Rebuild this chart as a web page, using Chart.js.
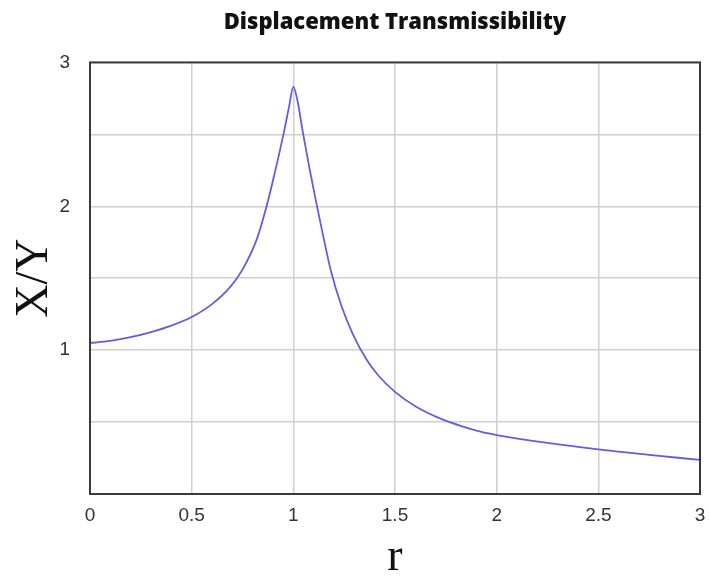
<!DOCTYPE html>
<html>
<head>
<meta charset="utf-8">
<script src="https://cdn.jsdelivr.net/npm/chart.js@4/dist/chart.umd.min.js"></script>
<style>
  html, body { margin: 0; padding: 0; background: #fff; }
</style>
</head>
<body>
<canvas id="myChart" width="709" height="581"></canvas>
<script>
// frequency ratio r and displacement transmissibility X/Y
const ratios = [0, 0.1, 0.2, 0.3, 0.4, 0.5, 0.6, 0.69, 0.75, 0.82, 0.874, 0.91, 0.953, 0.98, 1.0,
  1.021, 1.046, 1.08, 1.112, 1.137, 1.185, 1.236, 1.293, 1.36, 1.42, 1.5, 1.6, 1.73, 1.83, 1.93, 2.0,
  2.25, 2.5, 2.75, 3.0]
const transmissibility = [1.05, 1.065, 1.09, 1.125, 1.17, 1.23, 1.32, 1.44, 1.56, 1.77, 2.03, 2.24, 2.51, 2.7, 2.83,
  2.73, 2.52, 2.26, 2.03, 1.86, 1.55, 1.31, 1.11, 0.935, 0.82, 0.71, 0.61, 0.52, 0.47, 0.43, 0.41,
  0.355, 0.31, 0.272, 0.237]
const yLabelled = [1, 2, 3]

const chart = document.getElementById('myChart')

const points = ratios.map((r, i) => ({ x: r, y: transmissibility[i] }))

// dark box round the plot area
const frame = {
  id: 'frame',
  afterDatasetsDraw: (c) => {
    const { ctx, chartArea: a } = c
    ctx.save()
    ctx.strokeStyle = '#3a3a3a'
    ctx.lineWidth = 2
    ctx.strokeRect(a.left, a.top, a.right - a.left, a.bottom - a.top)
    ctx.restore()
  },
}

const config = {
  type: 'line',
  data: {
    datasets: [
      {
        data: points,
        borderColor: '#5f5fe0',
        borderWidth: 1.8,
        pointRadius: 0,
        cubicInterpolationMode: 'monotone',
      },
    ],
  },
  options: {
    responsive: false,
    animation: false,
    layout: { padding: { left: 0, right: 9, top: 0, bottom: 0 } },
    scales: {
      x: {
        type: 'linear',
        min: 0,
        max: 3,
        afterFit: (scale) => {
          scale.height = 87
          scale.paddingLeft = 0
          scale.paddingRight = 0
        },
        ticks: {
          stepSize: 0.5,
          padding: 10,
          color: '#333',
          font: { family: 'Liberation Sans', size: 19 },
          callback: (value) => String(Math.round(value * 10) / 10),
        },
        grid: { color: '#cfcfcf', lineWidth: 1.5, drawTicks: false },
        border: { display: false },
        title: {
          display: true,
          text: 'r',
          color: '#111',
          font: { family: 'Liberation Serif', size: 46, lineHeight: 1 },
          padding: { top: 0, bottom: 0 },
        },
      },
      y: {
        min: 0,
        max: 3,
        afterFit: (scale) => { scale.width = 90 },
        ticks: {
          stepSize: 0.5,
          padding: 20,
          color: '#333',
          font: { family: 'Liberation Sans', size: 19 },
          callback: (value) => (yLabelled.includes(value) ? value : ''),
        },
        grid: { color: '#cfcfcf', lineWidth: 1.5, drawTicks: false },
        border: { display: false },
        title: {
          display: true,
          text: 'X/Y',
          color: '#111',
          font: { family: 'Liberation Serif', size: 46, lineHeight: 1 },
          padding: { top: 12, bottom: 0 },
        },
      },
    },
    plugins: {
      legend: { display: false },
      tooltip: { enabled: false },
      title: {
        display: true,
        fullSize: false,
        text: 'Displacement Transmissibility',
        color: '#111',
        font: { family: 'Open Sans', size: 22, weight: 800 },
        padding: { top: 10, bottom: 26 },
      },
    },
  },
  plugins: [frame],
}

new Chart(chart, config)
</script>
</body>
</html>
